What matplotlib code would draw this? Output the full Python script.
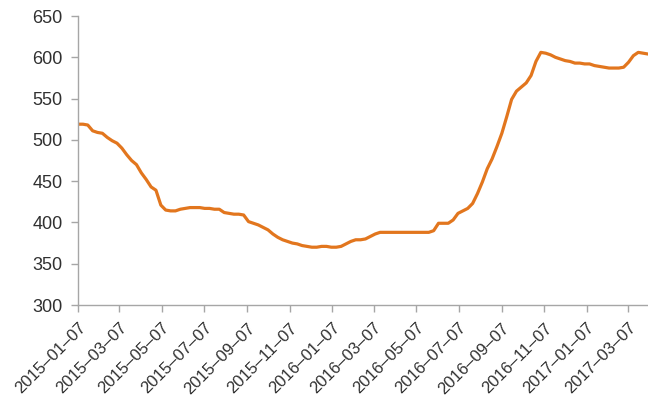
import numpy as np
import pandas as pd
import matplotlib
matplotlib.use('Agg')
from matplotlib import pyplot as plt
import matplotlib.dates as mdates

plt.rcParams['font.family'] = ['Liberation Sans', 'DejaVu Sans']

# weekly series, starting 2015-01-07
start_date = '2015-01-07'
values = [
    519, 519, 518, 511, 509, 508, 503, 499, 496, 490,
    482, 475, 470, 460, 452, 443, 439, 421, 415, 414,
    414, 416, 417, 418, 418, 418, 417, 417, 416, 416,
    412, 411, 410, 410, 409, 401, 399, 397, 394, 391,
    386, 382, 379, 377, 375, 374, 372, 371, 370, 370,
    371, 371, 370, 370, 371, 374, 377, 379, 379, 380,
    383, 386, 388, 388, 388, 388, 388, 388, 388, 388,
    388, 388, 388, 390, 399, 399, 399, 403, 411, 414,
    417, 423, 435, 449, 465, 477, 492, 508, 528, 549,
    559, 564, 569, 578, 595, 606, 605, 603, 600, 598,
    596, 595, 593, 593, 592, 592, 590, 589, 588, 587,
    587, 587, 588, 594, 602, 606, 605, 604,
]
dates = pd.date_range(start_date, periods=len(values), freq='7D')

tick_labels = ['2015-01-07', '2015-03-07', '2015-05-07', '2015-07-07',
               '2015-09-07', '2015-11-07', '2016-01-07', '2016-03-07',
               '2016-05-07', '2016-07-07', '2016-09-07', '2016-11-07',
               '2017-01-07', '2017-03-07']
tick_dates = pd.to_datetime(tick_labels)
y_ticks = [300, 350, 400, 450, 500, 550, 600, 650]

fig = plt.figure(figsize=(6.48, 4.01), dpi=100)
ax = fig.add_axes([0.1204, 0.2394, 0.8796, 0.7206])

ax.plot(dates, values, color='#E2761E', linewidth=2.3, solid_joinstyle='round')

ax.set_xlim(dates[0], dates[-1])
ax.set_ylim(300, 650)
ax.set_yticks(y_ticks)
ax.set_xticks(tick_dates)
# the source shows long dashes in the dates
ax.set_xticklabels([t.replace('-', '\u2013') for t in tick_labels])

for s in ['top', 'right']:
    ax.spines[s].set_visible(False)
for s in ['left', 'bottom']:
    ax.spines[s].set_color('#A6A6A6')
    ax.spines[s].set_linewidth(1.0)

ax.tick_params(axis='both', colors='#A6A6A6', length=5, width=1.0,
               labelcolor='#303030', labelsize=13)
ax.tick_params(axis='y', pad=6)
ax.tick_params(axis='x', pad=6, labelsize=12)
plt.setp(ax.get_xticklabels(), rotation=45, ha='right', rotation_mode='anchor')

fig.savefig('out.png', dpi=100)
